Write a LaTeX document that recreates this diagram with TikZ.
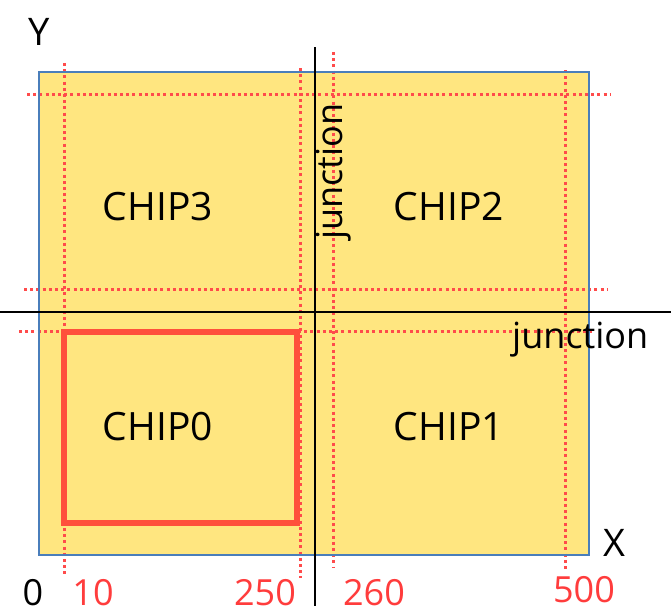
\documentclass[tikz,border=0pt]{standalone}
\usepackage{fontspec}
\setmainfont{Open Sans}
\definecolor{chipyellow}{RGB}{255,230,128}
\definecolor{chipblue}{RGB}{74,126,187}
\definecolor{dotred}{RGB}{255,75,75}
\definecolor{boxred}{RGB}{255,80,60}
\definecolor{labred}{RGB}{255,60,60}
\tikzset{
  guide/.style={draw=dotred, line width=3pt, dash pattern=on 3pt off 3.2pt},
  axis/.style={draw=black, line width=1.6pt},
  chiplabel/.style={font=\fontsize{39}{39}\selectfont, inner sep=0pt},
  biglabel/.style={font=\fontsize{38}{38}\selectfont, inner sep=0pt},
  numlabel/.style={font=\fontsize{36}{36}\selectfont, inner sep=0pt, text=labred},
  junclabel/.style={font=\fontsize{36}{36}\selectfont, inner sep=0pt},
}
\begin{document}
\begin{tikzpicture}[x=1pt, y=-1pt]
\useasboundingbox (0,0) rectangle (671,611);
% chip area
\fill[chipyellow] (39,72) rectangle (589,555);
% guides
\draw[guide] (64,63) -- (64,574);
\draw[guide] (300,68) -- (300,578);
\draw[guide] (333,52) -- (333,567);
\draw[guide] (565,70) -- (565,570);
\draw[guide] (27,94) -- (610,94);
\draw[guide] (24,289) -- (608,289);
\draw[guide] (19,331) -- (592,331);
% border
\draw[chipblue, line width=1.5pt] (39,72) rectangle (589,555);
% chip 0 outline
\draw[boxred, line width=5.5pt, line join=miter] (64,332) rectangle (297,523);
% axes
\draw[axis] (315,47) -- (315,606);
\draw[axis] (0,312) -- (671,312);
% labels
\node[chiplabel] (c3) at (158,207) {CHIP3};
\node[chiplabel] (c2) at (449,207) {CHIP2};
\node[chiplabel] (c0) at (158,427) {CHIP0};
\node[chiplabel] (c1) at (449,427) {CHIP1};
\node[biglabel] (ylab) at (39,32) {Y};
\node[biglabel] (xlab) at (614,543) {X};
\node[numlabel, text=black] (n0) at (33,593) {0};
\node[numlabel] (n10) at (93,593) {10};
\node[numlabel] (n250) at (265,593) {250};
\node[numlabel] (n260) at (374,593) {260};
\node[numlabel] (n500) at (584,590) {500};
\node[junclabel, anchor=base west] (jh) at (512,348) {junction};
\node[junclabel, anchor=base west, rotate=90] (jv) at (342,240) {junction};
\end{tikzpicture}
\end{document}
